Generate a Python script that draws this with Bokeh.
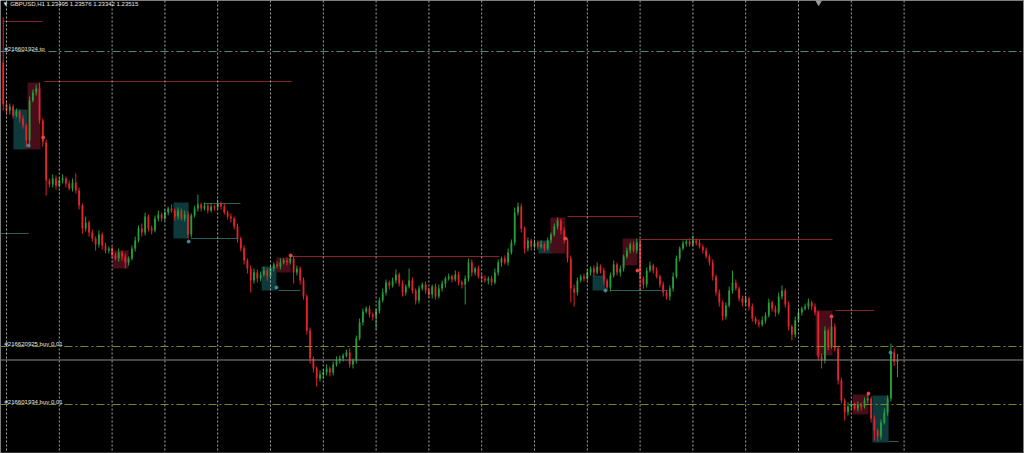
from bokeh.plotting import figure
from bokeh.models import Range1d, Span, Label, ColumnDataSource
from bokeh.embed import file_html
from bokeh.resources import INLINE

symbol = "GBPUSD,H1"

# H1 closes, oldest first (bar index = position in list)
first_open = 1.2649
close = [
    1.2607, 1.2601, 1.2605, 1.2596, 1.2600, 1.2593, 1.2586, 1.2571, 1.2611, 1.2619, 1.2623, 1.2591, 1.2569, 1.2531, 1.2527, 1.2533, 1.2526,
    1.2531, 1.2533, 1.2528, 1.2523, 1.2529, 1.2521, 1.2506, 1.2483, 1.2489, 1.2479, 1.2473, 1.2467, 1.2477, 1.2466, 1.2461, 1.2463,
    1.2456, 1.2453, 1.2459, 1.2455, 1.2449, 1.2453, 1.2463, 1.2471, 1.2483, 1.2479, 1.2495, 1.2483, 1.2481, 1.2493, 1.2497, 1.2493,
    1.2499, 1.2503, 1.2501, 1.2495, 1.2501, 1.2493, 1.2497, 1.2477, 1.2496, 1.2503, 1.2507, 1.2503, 1.2506, 1.2501, 1.2505, 1.2504,
    1.2508, 1.2505, 1.2499, 1.2495, 1.2493, 1.2485, 1.2473, 1.2463, 1.2451, 1.2443, 1.2431, 1.2439, 1.2433, 1.2437, 1.2441, 1.2435,
    1.2443, 1.2447, 1.2445, 1.2449, 1.2451, 1.2449, 1.2453, 1.2439, 1.2443, 1.2431, 1.2415, 1.2381, 1.2353, 1.2343, 1.2333, 1.2337,
    1.2339, 1.2343, 1.2339, 1.2347, 1.2351, 1.2353, 1.2356, 1.2359, 1.2347, 1.2351, 1.2373, 1.2389, 1.2400, 1.2403, 1.2397, 1.2395,
    1.2401, 1.2411, 1.2419, 1.2429, 1.2426, 1.2431, 1.2437, 1.2428, 1.2419, 1.2425, 1.2431, 1.2421, 1.2411, 1.2423, 1.2427, 1.2421,
    1.2417, 1.2425, 1.2415, 1.2423, 1.2428, 1.2433, 1.2435, 1.2432, 1.2437, 1.2429, 1.2427, 1.2433, 1.2449, 1.2439, 1.2443, 1.2435,
    1.2433, 1.2431, 1.2433, 1.2429, 1.2439, 1.2449, 1.2453, 1.2449, 1.2459, 1.2469, 1.2499, 1.2505, 1.2483, 1.2463, 1.2471, 1.2465,
    1.2469, 1.2465, 1.2467, 1.2463, 1.2471, 1.2477, 1.2485, 1.2491, 1.2481, 1.2471, 1.2453, 1.2423, 1.2419, 1.2431, 1.2435, 1.2433,
    1.2439, 1.2443, 1.2439, 1.2445, 1.2441, 1.2431, 1.2424, 1.2436, 1.2447, 1.2439, 1.2443, 1.2455, 1.2461, 1.2467, 1.2461, 1.2469,
    1.2433, 1.2427, 1.2441, 1.2446, 1.2441, 1.2435, 1.2427, 1.2419, 1.2415, 1.2423, 1.2435, 1.2453, 1.2463, 1.2468, 1.2470, 1.2467,
    1.2471, 1.2469, 1.2465, 1.2461, 1.2455, 1.2449, 1.2435, 1.2419, 1.2409, 1.2395, 1.2406, 1.2421, 1.2429, 1.2423, 1.2413, 1.2409,
    1.2413, 1.2405, 1.2393, 1.2389, 1.2387, 1.2391, 1.2396, 1.2409, 1.2403, 1.2399, 1.2415, 1.2421, 1.2407, 1.2385, 1.2377, 1.2391,
    1.2399, 1.2403, 1.2405, 1.2409, 1.2405, 1.2399, 1.2355, 1.2351, 1.2381, 1.2365, 1.2385, 1.2363, 1.2331, 1.2311, 1.2299, 1.2305,
    1.2307, 1.2303, 1.2307, 1.2305, 1.2311, 1.2313, 1.2293, 1.2281, 1.2275, 1.2289, 1.2299, 1.2313, 1.2359, 1.23495, 1.23515,
]

# wick lengths in pips above the body / below the body
wick_up = [
    45, 2, 3, 2, 3, 2, 3, 2, 4, 3, 4, 6, 2, 3, 2, 4, 3,
    3, 4, 2, 3, 4, 9, 3, 2, 6, 2, 3, 2, 4, 2, 3, 2,
    2, 3, 4, 2, 3, 2, 3, 4, 3, 5, 4, 2, 3, 3, 4, 2,
    3, 2, 4, 2, 3, 2, 4, 3, 2, 3, 10, 2, 3, 2, 3, 2,
    4, 2, 3, 2, 3, 2, 3, 2, 3, 2, 3, 4, 3, 3, 4, 2,
    3, 2, 3, 4, 2, 3, 3, 2, 3, 2, 3, 2, 3, 2, 2, 4,
    3, 4, 2, 3, 4, 3, 2, 3, 4, 2, 3, 4, 3, 2, 3, 2,
    2, 3, 4, 3, 2, 3, 5, 2, 3, 2, 12, 3, 2, 3, 2, 3,
    3, 2, 3, 4, 3, 2, 3, 2, 4, 3, 2, 3, 4, 3, 2, 3,
    2, 3, 2, 3, 4, 3, 2, 3, 4, 3, 5, 4, 3, 2, 3, 2,
    3, 2, 4, 2, 3, 2, 3, 3, 2, 3, 2, 3, 4, 3, 2, 3,
    3, 2, 3, 4, 2, 3, 2, 3, 4, 2, 3, 2, 3, 2, 3, 4,
    3, 2, 3, 4, 2, 3, 2, 3, 2, 3, 4, 3, 2, 3, 2, 3,
    5, 2, 3, 2, 3, 2, 3, 2, 3, 2, 3, 4, 12, 3, 2, 3,
    3, 2, 3, 2, 3, 4, 3, 4, 2, 3, 4, 5, 2, 3, 2, 4,
    3, 2, 3, 4, 2, 3, 2, 3, 4, 2, 8, 3, 2, 3, 2, 4,
    3, 2, 3, 2, 3, 5, 2, 3, 2, 3, 4, 3, 9, 4, 6.1,
]
wick_dn = [
    6, 3, 4, 3, 2, 4, 3, 7, 7, 2, 3, 3, 4, 15, 3, 3, 4,
    2, 3, 4, 2, 3, 3, 4, 5, 3, 4, 3, 6, 3, 4, 3, 3,
    3, 2, 3, 4, 6, 3, 2, 3, 2, 4, 3, 3, 4, 2, 3, 3,
    2, 3, 2, 4, 3, 2, 3, 4, 3, 2, 3, 3, 2, 3, 2, 3,
    2, 3, 2, 3, 4, 3, 4, 3, 4, 5, 12, 3, 4, 3, 2, 4,
    2, 3, 2, 3, 2, 3, 2, 11, 3, 4, 3, 4, 5, 4, 8, 3,
    4, 3, 4, 3, 2, 3, 3, 2, 3, 4, 3, 2, 3, 2, 3, 4,
    13, 3, 2, 3, 4, 2, 3, 3, 4, 3, 2, 3, 4, 3, 2, 3,
    3, 4, 3, 2, 3, 4, 2, 3, 2, 3, 4, 20, 3, 4, 3, 2,
    3, 2, 4, 3, 2, 3, 4, 2, 3, 2, 3, 3, 4, 5, 3, 4,
    2, 3, 2, 3, 2, 3, 2, 3, 4, 3, 4, 14, 14, 3, 2, 3,
    2, 3, 4, 2, 3, 4, 3, 4, 2, 3, 4, 3, 2, 3, 2, 3,
    12, 4, 3, 2, 3, 2, 3, 4, 3, 4, 3, 2, 3, 2, 3, 2,
    2, 3, 2, 3, 2, 3, 4, 3, 4, 4, 3, 2, 3, 2, 3, 4,
    3, 4, 3, 2, 3, 2, 3, 2, 3, 4, 2, 3, 3, 4, 6, 3,
    2, 3, 2, 3, 4, 3, 4, 8, 3, 4, 2, 3, 4, 3, 8, 3,
    3, 2, 3, 4, 2, 3, 4, 10, 5, 3, 2, 3, 3, 4, 15.3,
]

# day separators (every 16 bars)
day_starts = [1 + 16 * k for k in range(18)]

# zones: bullish (teal) and bearish (red) blocks
teal_left = [3.1, 51.6, 78.3, 162.2, 178.6, 263.4]
teal_right = [7.4, 56.2, 82.8, 166.5, 182.5, 268.3]
teal_top = [1.2602, 1.2509, 1.2445, 1.2471, 1.2436, 1.2316]
teal_bottom = [1.2562, 1.2473, 1.2421, 1.2458, 1.2421, 1.2269]

red_left = [7.4, 33.1, 82.8, 165.8, 187.7, 246.2, 257.4]
red_right = [11.3, 38.0, 87.1, 170.4, 192.2, 251.3, 262.2]
red_top = [1.2629, 1.2461, 1.2454, 1.2494, 1.2473, 1.2401, 1.2317]
red_bottom = [1.2562, 1.2443, 1.2439, 1.2458, 1.2446, 1.2356, 1.2297]

# horizontal level segments
red_lvl_x0 = [12.5, 87.1, 171.0, 192.5, 252.2, 0.0]
red_lvl_x1 = [87.4, 150.4, 192.5, 251.3, 264.0, 11.9]
red_lvl_y = [1.2630, 1.2455, 1.2495, 1.2472, 1.2401, 1.2690]

teal_lvl_x0 = [-0.8, 56.8, 60.7, 83.4, 184.0, 268.3]
teal_lvl_x1 = [7.7, 71.3, 71.9, 90.1, 201.3, 271.3]
teal_lvl_y = [1.2478, 1.2473, 1.2508, 1.2421, 1.2421, 1.2270]

# swing markers
red_dot_x = [12.1, 87.1, 170.4, 192.2, 251.0, 262.2]
red_dot_y = [1.2574, 1.2456, 1.2473, 1.2441, 1.2395, 1.2318]
teal_dot_x = [7.7, 56.2, 82.8, 182.5, 268.9]
teal_dot_y = [1.2566, 1.2470, 1.2424, 1.2421, 1.2359]

# order lines
order_labels = ["#216601924 tp", "#216620925 buy 0.01", "#216601934 buy 0.01"]
order_prices = [1.2660, 1.2365, 1.2307]
order_colors = ["#4f8a78", "#76862c", "#76862c"]

BULL = "#23a03a"
BEAR = "#e3222c"
PIP = 0.0001

opens = [first_open] + close[:-1]
highs = [max(o, c) + u * PIP for o, c, u in zip(opens, close, wick_up)]
lows = [min(o, c) - d * PIP for o, c, d in zip(opens, close, wick_dn)]
idx = list(range(len(close)))
colors = [BULL if c >= o else BEAR for o, c in zip(opens, close)]
body_top = [max(o, c) for o, c in zip(opens, close)]
body_bot = [min(o, c) for o, c in zip(opens, close)]
body_bot = [b - 0.00004 if t - b < 0.00008 else b for t, b in zip(body_top, body_bot)]

src = ColumnDataSource(dict(x=idx, o=opens, h=highs, l=lows, c=close,
                            top=body_top, bot=body_bot, color=colors))

p = figure(width=1024, height=453,
           x_range=Range1d(-0.818, 309.485), y_range=Range1d(1.2258, 1.2711),
           output_backend="svg", toolbar_location=None,
           x_axis_type=None, y_axis_type=None,
           background_fill_color="#000000", border_fill_color="#000000",
           min_border=0, outline_line_color=None)
p.xgrid.visible = False
p.ygrid.visible = False

for d in day_starts:
    p.add_layout(Span(location=d, dimension="height", line_color="#c4c4c4",
                      line_width=1, line_dash="2 2", line_alpha=0.85))

p.quad(left=teal_left, right=teal_right, top=teal_top, bottom=teal_bottom,
       fill_color="#0f3a3b", line_color=None)
p.quad(left=red_left, right=red_right, top=red_top, bottom=red_bottom,
       fill_color="#470d19", line_color=None)

p.segment(x0=red_lvl_x0, x1=red_lvl_x1, y0=red_lvl_y, y1=red_lvl_y,
          line_color="#8a2229", line_width=1)
p.segment(x0=teal_lvl_x0, x1=teal_lvl_x1, y0=teal_lvl_y, y1=teal_lvl_y,
          line_color="#2c5e5e", line_width=1)

for price, col in zip(order_prices, order_colors):
    p.add_layout(Span(location=price, dimension="width", line_color=col,
                      line_width=1, line_dash="8 3 2 3"))
# current bid
p.add_layout(Span(location=close[-1], dimension="width", line_color="#8a8a8a", line_width=1))

p.segment(x0="x", x1="x", y0="l", y1="h", line_color="color", line_width=1, source=src)
p.vbar(x="x", width=0.55, top="top", bottom="bot", fill_color="color",
       line_color=None, source=src)

p.scatter(red_dot_x, red_dot_y, size=3, color="#e84848")
p.scatter(teal_dot_x, teal_dot_y, size=3, color="#3f8f96")

# chart-shift marker and frame edges
p.scatter([247.1], [1.27095], marker="inverted_triangle", size=6, color="#9a9a9a")
p.add_layout(Span(location=309.2, dimension="height", line_color="#8a8a8a", line_width=1))
p.add_layout(Span(location=1.22587, dimension="width", line_color="#4a4a4a", line_width=1))

title = "\u25bc {} {:.5f} {:.5f} {:.5f} {:.5f}".format(symbol, opens[-1], highs[-1], lows[-1], close[-1])
p.add_layout(Label(x=-0.2, y=1.27102, text=title, text_color="#e6e6e6",
                   text_font="Liberation Sans", text_font_size="6px", text_baseline="top"))
for txt, price in zip(order_labels, order_prices):
    p.add_layout(Label(x=0.4, y=price - 0.00005, text=txt, text_color="#e6e6e6",
                       text_font="Liberation Sans", text_font_size="6px", text_baseline="bottom"))

open("out.html", "w").write(file_html(p, INLINE))
